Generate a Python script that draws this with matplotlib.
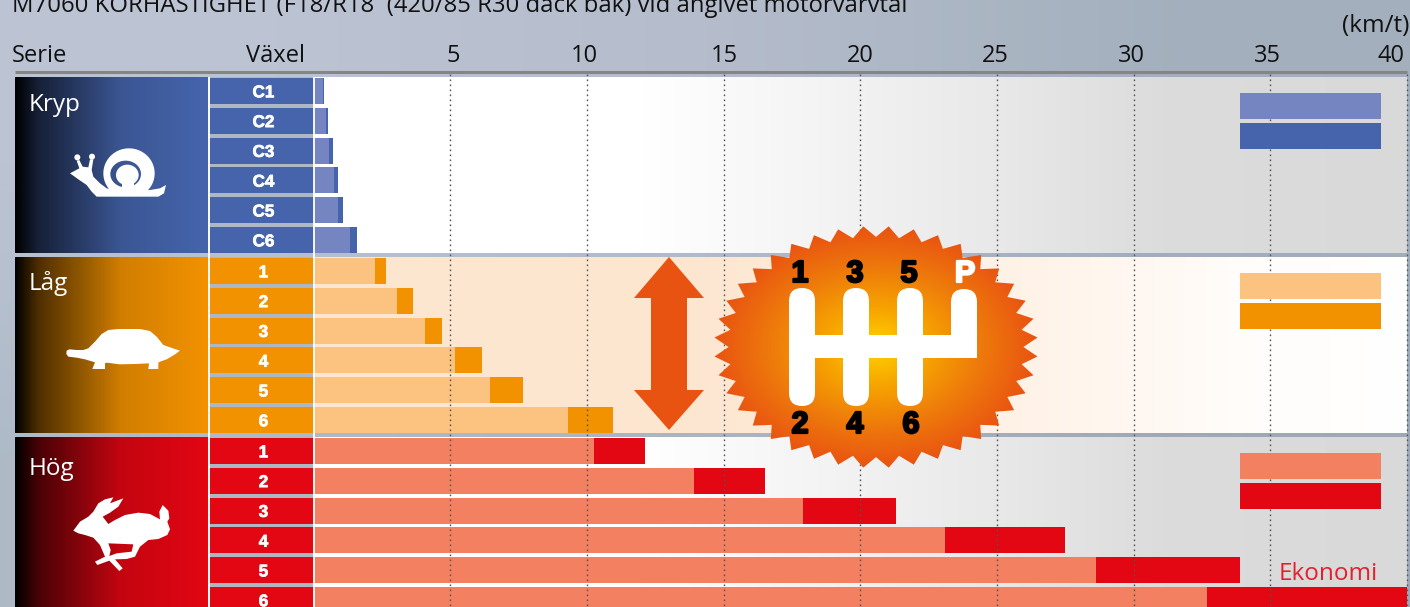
import numpy as np
import matplotlib
matplotlib.use("Agg")
import matplotlib.pyplot as plt
import matplotlib.patheffects as pe
from matplotlib.colors import LinearSegmentedColormap, to_rgb
from matplotlib.patches import Ellipse, Circle, Polygon, FancyBboxPatch, PathPatch
from matplotlib.path import Path

# ─────────────────────────────────────────────
# DATA (km/t at the two engine speeds)
# ─────────────────────────────────────────────
series = ["Kryp", "Låg", "Hög"]
gears_kryp = ["C1", "C2", "C3", "C4", "C5", "C6"]
gears_lag = ["1", "2", "3", "4", "5", "6"]
gears_hog = ["1", "2", "3", "4", "5", "6"]

eco_kryp = [0.34, 0.46, 0.57, 0.75, 0.90, 1.34]
max_kryp = [0.39, 0.53, 0.71, 0.90, 1.08, 1.59]
eco_lag = [2.25, 3.06, 4.08, 5.18, 6.46, 9.31]
max_lag = [2.65, 3.64, 4.70, 6.16, 7.66, 10.96]
eco_hog = [10.26, 13.92, 17.91, 23.10, 28.62, 32.68]
max_hog = [12.13, 16.52, 21.31, 27.49, 33.89, 40.0]

speed_ticks = [5, 10, 15, 20, 25, 30, 35, 40]

title = "M7060 KÖRHASTIGHET (F18/R18  (420/85 R30 däck bak) vid angivet motorvarvtal"

# ─────────────────────────────────────────────
# LAYOUT
# ─────────────────────────────────────────────
W, H = 1410, 607
X0, PX_PER_KMH = 313.5, 27.34
SECTION_TOPS = [78, 258, 438]
ROW_PITCH, ROW_H = 29.8, 26
TICK_NUDGE = [3, -3, 1, 0, -2, -2, -3, -16]
LABEL_Y = [105, 284, 469]

DARK = ["#4564ab", "#f39200", "#e30613"]
LIGHT = ["#7585c1", "#fbc37f", "#f38060"]
FONT = "Open Sans"

fig = plt.figure(figsize=(W / 100, H / 100), dpi=100)

# pixel axes at the back: page background, panels, series blocks
bg = fig.add_axes([0, 0, 1, 1], zorder=0)
bg.axis("off")

page = np.array([[[0.74, 0.77, 0.83], [0.71, 0.74, 0.80], [0.64, 0.69, 0.74]],
                 [[0.68, 0.73, 0.78], [0.67, 0.71, 0.76], [0.62, 0.66, 0.72]]])
bg.imshow(page, extent=[0, W, H, 0], aspect="auto", interpolation="bilinear", zorder=0)


def h_gradient(axis, colors, x1, x2, y1, y2, zorder=1):
    cmap = LinearSegmentedColormap.from_list("g", colors)
    grad = np.linspace(0, 1, 256)[None, :]
    axis.imshow(grad, extent=[x1, x2, y2, y1], aspect="auto", cmap=cmap, zorder=zorder)


def shade(color, k):
    return tuple(c * k for c in to_rgb(color))


panel_gray = [(0, "#ffffff"), (0.30, "#ffffff"), (0.62, "#e9e9e9"), (0.78, "#dcdcdc"), (1, "#d9d9d9")]
panel_peach = [(0, "#fde6d0"), (0.34, "#fde6d0"), (0.65, "#fff3e8"), (0.86, "#fffdfb"), (1, "#ffffff")]
panels = [panel_gray, panel_peach, panel_gray]

for i, top in enumerate(SECTION_TOPS):
    y1, y2 = top - 1, top + 175
    h_gradient(bg, panels[i], 314, 1407, y1, y2)
    h_gradient(bg, [(0, "#000000"), (0.12, shade(DARK[i], 0.32)), (0.55, shade(DARK[i], 0.86)), (1, DARK[i])],
               15, 208, y1, y2)
bg.set_xlim(0, W)
bg.set_ylim(H, 0)

# ─────────────────────────────────────────────
# BARS on a km/t axis
# ─────────────────────────────────────────────
ax = fig.add_axes([0, 0, 1, 1], zorder=1)
ax.patch.set_alpha(0)
ax.set_xlim((0 - X0) / PX_PER_KMH, (W - X0) / PX_PER_KMH)
ax.set_ylim(H, 0)
ax.axis("off")

eco_all = [eco_kryp, eco_lag, eco_hog]
max_all = [max_kryp, max_lag, max_hog]
gears_all = [gears_kryp, gears_lag, gears_hog]

for i, top in enumerate(SECTION_TOPS):
    ys = [top + ROW_PITCH * r + ROW_H / 2 for r in range(6)]
    ax.barh(ys, max_all[i], height=ROW_H, color=DARK[i], zorder=2)
    ax.barh(ys, eco_all[i], height=ROW_H, color=LIGHT[i], zorder=3)
    # legend swatches, not tied to any gear
    ax.barh(top + 15 + ROW_H / 2, 5.16, left=33.87, height=ROW_H, color=LIGHT[i], zorder=6)
    ax.barh(top + 15 + ROW_PITCH + ROW_H / 2, 5.16, left=33.87, height=ROW_H, color=DARK[i], zorder=6)

ax.vlines(speed_ticks, 74, H, color="#555555", lw=1.0, linestyles=(0, (1.2, 2.4)), zorder=5)

# gear cells, same row layout, on the pixel overlay
fg = fig.add_axes([0, 0, 1, 1], zorder=2)
fg.patch.set_alpha(0)
fg.set_xlim(0, W)
fg.set_ylim(H, 0)
fg.axis("off")

page_gap = "#aeb8c5"
for i, top in enumerate(SECTION_TOPS):
    fg.fill_between([210, 313], top - 1, min(top + 175, H), color=page_gap, lw=0, zorder=1)
    for r, g in enumerate(gears_all[i]):
        y = top + ROW_PITCH * r
        fg.fill_between([210, 313], y, y + ROW_H, color=DARK[i], lw=0, zorder=2)
        fg.text(263.5, y + ROW_H / 2 + 1.8, g, color="white", ha="center", va="center",
                family="Liberation Sans", weight="bold", fontsize=12.3, zorder=3,
                path_effects=[pe.withStroke(linewidth=0.5, foreground="white")])
    fg.text(29, LABEL_Y[i], series[i], color="white", ha="left", va="center",
            family=FONT, fontsize=17.5, zorder=3)

fg.vlines([208.5, 314], 77, H, color="white", lw=1.3, zorder=4)

# header
fg.hlines(72, 15, 1407, color="#858585", lw=2.2, zorder=3)
fg.text(12, 12, title, family=FONT, fontsize=17.2, color="#111111", ha="left", va="baseline")
fg.text(12, 62, "Serie", family=FONT, fontsize=17, color="#111111", ha="left", va="baseline")
fg.text(275, 62, "Växel", family=FONT, fontsize=17, color="#111111", ha="center", va="baseline")
for t, nudge in zip(speed_ticks, TICK_NUDGE):
    px = X0 + t * PX_PER_KMH
    fg.text(px + nudge, 62, str(t), family=FONT, fontsize=17, color="#111111", ha="center", va="baseline")
fg.text(1409, 32, "(km/t)", family=FONT, fontsize=17.5, color="#111111", ha="right", va="baseline")
fg.text(1328, 580, "Ekonomi", family=FONT, fontsize=17.5, color="#e5202e", ha="center", va="baseline", zorder=8)


# ─────────────────────────────────────────────
# ICONS (outlines traced at 3x, then scaled back)
# ─────────────────────────────────────────────
def outline(points, x0, y0):
    pts = np.array(points, dtype=float) / 3 + [x0, y0]
    return pts


def ring_path(outer, inner):
    # opposite winding so the inner part stays a hole
    def area(p):
        x, y = p[:, 0], p[:, 1]
        return np.sum(x * np.roll(y, -1) - np.roll(x, -1) * y)
    if area(outer) * area(inner) > 0:
        inner = inner[::-1]
    return Path.make_compound_path(Path(np.vstack([outer, outer[:1]]), closed=True),
                                   Path(np.vstack([inner, inner[:1]]), closed=True))


def ellipse_pts(cx, cy, rx, ry, n=80):
    a = np.linspace(0, 2 * np.pi, n, endpoint=False)
    return np.column_stack([cx + rx * np.cos(a), cy + ry * np.sin(a)])


# snail
SX, SY = 60, 140
snail_body = [(30, 100), (58, 85), (50, 62), (58, 60), (68, 80), (85, 82), (90, 58), (100, 58), (95, 90),
              (100, 110), (120, 130), (140, 145), (165, 150), (225, 150), (270, 150), (300, 145), (318, 135),
              (312, 160), (295, 170), (110, 170), (95, 155), (80, 135), (55, 118)]
fg.add_patch(Polygon(outline(snail_body, SX, SY), color="white", lw=0, zorder=5))
shell_out = outline(ellipse_pts(207, 100, 77, 75), SX, SY)
shell_in = outline(ellipse_pts(197, 102, 46, 40), SX, SY)
shell_clip = Polygon(outline([(120, 15), (295, 15), (295, 155), (120, 155)], SX, SY), transform=fg.transData)
ring = PathPatch(ring_path(shell_out, shell_in), color="white", lw=0, zorder=5)
fg.add_patch(ring)
ring.set_clip_path(shell_clip)
fg.add_patch(Ellipse((60 + 202 / 3, 140 + 105 / 3), 68 / 3, 62 / 3, color="white", lw=0, zorder=6))
fg.add_patch(Polygon(outline([(185, 122), (222, 122), (222, 152), (185, 152)], SX, SY), color="white", lw=0, zorder=6))
fg.add_patch(Circle((60 + 52 / 3, 140 + 52 / 3), 3, color="white", lw=0, zorder=5))
fg.add_patch(Circle((60 + 96 / 3, 140 + 50 / 3), 3, color="white", lw=0, zorder=5))

# turtle
turtle = [(20, 92), (28, 88), (50, 90), (70, 90), (85, 85), (105, 65), (125, 42), (145, 30), (175, 27), (240, 27),
          (270, 33), (290, 50), (310, 75), (330, 82), (360, 92), (345, 103), (320, 118), (300, 125), (295, 128),
          (295, 147), (265, 147), (267, 130), (225, 132), (180, 133), (140, 128), (135, 130), (135, 147), (97, 147),
          (105, 127), (75, 118), (50, 113), (25, 110), (19, 102)]
fg.add_patch(Polygon(outline(turtle, 60, 320), color="white", lw=0, zorder=5))

# hare
hare = [(40, 122), (60, 95), (85, 80), (100, 65), (115, 40), (135, 28), (160, 22), (150, 40), (190, 25), (175, 50),
        (150, 68), (128, 80), (145, 102), (165, 90), (195, 75), (235, 68), (270, 72), (300, 88), (298, 65), (308, 45),
        (325, 62), (328, 85), (322, 95), (330, 118), (322, 135), (295, 147), (265, 150), (240, 170), (225, 200),
        (200, 207), (165, 208), (188, 235), (178, 243), (148, 212), (112, 225), (105, 215), (135, 200), (120, 165),
        (100, 143), (75, 135), (55, 130)]
hare_hole = [(145, 160), (220, 163), (215, 185), (170, 190), (148, 198), (152, 180)]
fg.add_patch(PathPatch(ring_path(outline(hare, 60, 490), outline(hare_hole, 60, 490)), color="white", lw=0, zorder=5))

# double arrow
fg.add_patch(Polygon([(669, 257), (704, 298), (687, 298), (687, 390), (704, 390), (669, 430), (634, 390), (651, 390),
                      (651, 298), (634, 298)], color="#e95312", lw=0, zorder=7))

# star with radial gradient
STAR_X, STAR_Y, RX, RY = 876, 347, 162, 121
INNER = 0.91
n_spikes = 40
angles = (np.arange(2 * n_spikes) + 1) * np.pi / n_spikes
radii = np.where(np.arange(2 * n_spikes) % 2 == 0, 1.0, INNER)
star_pts = np.column_stack([STAR_X + RX * radii * np.cos(angles), STAR_Y + RY * radii * np.sin(angles)])
star = Polygon(star_pts, closed=True, facecolor="none", edgecolor="none", zorder=8)
fg.add_patch(star)
gx, gy = np.meshgrid(np.linspace(-1, 1, 300), np.linspace(-1, 1, 300))
rr = np.clip(np.hypot(gx, gy), 0, 1)
star_cmap = LinearSegmentedColormap.from_list("star", [(0, "#ffd200"), (0.3, "#f7a600"), (0.65, "#ee7a0b"), (1, "#e95312")])
im = fg.imshow(rr, extent=[STAR_X - RX, STAR_X + RX, STAR_Y + RY, STAR_Y - RY], aspect="auto",
               cmap=star_cmap, zorder=8)
im.set_clip_path(star)
fg.set_xlim(0, W)
fg.set_ylim(H, 0)

# shift gate
for cx in [802, 856, 910]:
    fg.add_patch(FancyBboxPatch((cx - 13, 288), 26, 118, boxstyle="round,pad=0,rounding_size=13",
                                color="white", lw=0, zorder=9))
fg.add_patch(FancyBboxPatch((951, 289), 26, 60, boxstyle="round,pad=0,rounding_size=13",
                            color="white", lw=0, zorder=9))
fg.fill_between([951, 977], 310, 358, color="white", lw=0, zorder=9)
fg.fill_between([802, 977], 335, 358, color="white", lw=0, zorder=9)
for cx, cy, s, col in [(800, 274, "1", "black"), (855, 274, "3", "black"), (909, 274, "5", "black"), (965, 274, "P", "white"),
                       (800, 425, "2", "black"), (855, 425, "4", "black"), (911, 425, "6", "black")]:
    fg.text(cx, cy, s, color=col, family="Liberation Sans", weight="bold", fontsize=22, ha="center", va="center", zorder=10,
            path_effects=[pe.withStroke(linewidth=1.6, foreground=col)])

fig.savefig("out.png", dpi=100)
